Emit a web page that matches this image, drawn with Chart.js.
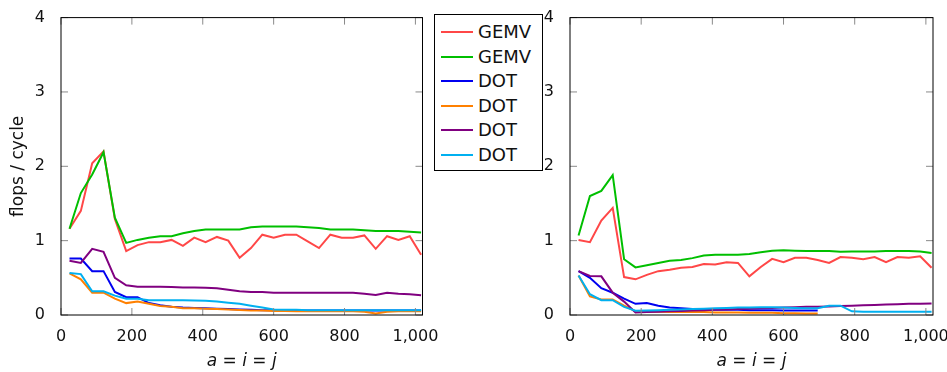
<!DOCTYPE html>
<html>
<head>
<meta charset="utf-8">
<script src="https://cdn.jsdelivr.net/npm/chart.js@4.4.1/dist/chart.umd.min.js"></script>
<style>
html, body { margin: 0; padding: 0; background: #fff; width: 947px; height: 372px; overflow: hidden; }
.plot { position: absolute; top: 0; height: 372px; }
#left { left: 0; width: 445px; }
#right { left: 509px; width: 450px; }
#legend { position: absolute; left: 434px; top: 14px; width: 109px; height: 157px; box-sizing: border-box;
  border: 1px solid #000; background: #fff; z-index: 5; font-family: 'DejaVu Sans'; font-size: 18px; color: #111; }
#legend .row { position: absolute; left: 0; height: 24px; line-height: 24px; white-space: nowrap; }
#legend .swatch { position: absolute; left: 6px; top: 11px; width: 32px; height: 2px; }
#legend .name { position: absolute; left: 43px; top: 0; }
</style>
</head>
<body>
<div class="plot" id="left"><canvas id="chartLeft"></canvas></div>
<div class="plot" id="right"><canvas id="chartRight"></canvas></div>
<div id="legend"></div>
<script>
// problem size a = i = j
const sizes = [24, 56, 88, 120, 152, 184, 216, 248, 280, 312, 344, 376, 408, 440, 472, 504,
               536, 568, 600, 632, 664, 696, 728, 760, 792, 824, 856, 888, 920, 952, 984, 1016];
const xTicks = [0, 200, 400, 600, 800, 1000];
const yTicks = [0, 1, 2, 3, 4];

const seriesNames = ['GEMV', 'GEMV', 'DOT', 'DOT', 'DOT', 'DOT'];
const seriesColors = ['#ff4747', '#00bf00', '#0000f0', '#ff8000', '#800080', '#00b0f0'];

// left panel
const gemvRedL = [1.16, 1.40, 2.04, 2.20, 1.29, 0.86, 0.94, 0.98, 0.98, 1.01, 0.93, 1.04, 0.98, 1.05, 1.00, 0.77,
                  0.90, 1.08, 1.04, 1.08, 1.08, 0.99, 0.90, 1.08, 1.04, 1.04, 1.07, 0.89, 1.06, 1.01, 1.06, 0.81];
const gemvGreenL = [1.16, 1.64, 1.89, 2.19, 1.31, 0.97, 1.01, 1.04, 1.06, 1.06, 1.10, 1.13, 1.15, 1.15, 1.15, 1.15,
                    1.18, 1.19, 1.19, 1.19, 1.19, 1.18, 1.17, 1.15, 1.15, 1.15, 1.14, 1.13, 1.13, 1.13, 1.12, 1.11];
const dotBlueL = [0.76, 0.76, 0.59, 0.59, 0.31, 0.24, 0.24, 0.16, 0.13, 0.11, 0.10, 0.095, 0.09, 0.085, 0.08, 0.075,
                  0.07, 0.065, 0.065, 0.06, 0.06, 0.06, 0.06, 0.06, 0.06, 0.06, 0.06, 0.06, 0.06, 0.06, 0.06, 0.06];
const dotOrangeL = [0.56, 0.48, 0.30, 0.30, 0.22, 0.16, 0.18, 0.15, 0.12, 0.11, 0.09, 0.09, 0.085, 0.08, 0.075, 0.067,
                    0.06, 0.06, 0.055, 0.055, 0.05, 0.05, 0.05, 0.05, 0.05, 0.05, 0.045, 0.02, 0.045, 0.05, 0.05, 0.05];
const dotPurpleL = [0.73, 0.70, 0.89, 0.85, 0.50, 0.40, 0.38, 0.38, 0.38, 0.375, 0.37, 0.37, 0.365, 0.36, 0.34, 0.32,
                    0.31, 0.31, 0.30, 0.30, 0.30, 0.30, 0.30, 0.30, 0.30, 0.30, 0.285, 0.27, 0.30, 0.285, 0.28, 0.267];
const dotCyanL = [0.565, 0.55, 0.32, 0.32, 0.26, 0.22, 0.22, 0.20, 0.20, 0.20, 0.20, 0.195, 0.19, 0.18, 0.165, 0.15,
                  0.125, 0.10, 0.075, 0.07, 0.07, 0.065, 0.065, 0.065, 0.065, 0.065, 0.065, 0.065, 0.065, 0.065, 0.065, 0.065];

// right panel (blue and orange stop at 696)
const gemvRedR = [1.01, 0.98, 1.27, 1.44, 0.51, 0.48, 0.54, 0.59, 0.61, 0.635, 0.645, 0.685, 0.68, 0.71, 0.70, 0.52,
                  0.645, 0.755, 0.71, 0.77, 0.77, 0.74, 0.70, 0.78, 0.77, 0.75, 0.78, 0.71, 0.78, 0.77, 0.79, 0.635];
const gemvGreenR = [1.07, 1.60, 1.67, 1.88, 0.75, 0.64, 0.67, 0.70, 0.73, 0.74, 0.765, 0.80, 0.81, 0.81, 0.81, 0.82,
                    0.845, 0.865, 0.87, 0.865, 0.86, 0.86, 0.86, 0.85, 0.855, 0.855, 0.855, 0.86, 0.86, 0.86, 0.855, 0.835];
const dotBlueR = [0.59, 0.50, 0.36, 0.30, 0.22, 0.15, 0.16, 0.125, 0.10, 0.09, 0.08, 0.075, 0.07, 0.07, 0.07, 0.065,
                  0.065, 0.065, 0.06, 0.06, 0.06, 0.06];
const dotOrangeR = [0.53, 0.25, 0.21, 0.21, 0.125, 0.05, 0.045, 0.045, 0.04, 0.04, 0.04, 0.04, 0.035, 0.035, 0.035, 0.03,
                    0.03, 0.03, 0.025, 0.025, 0.02, 0.02];
const dotPurpleR = [0.59, 0.525, 0.52, 0.30, 0.18, 0.035, 0.04, 0.045, 0.05, 0.055, 0.06, 0.065, 0.07, 0.075, 0.08, 0.085,
                    0.09, 0.095, 0.10, 0.105, 0.11, 0.11, 0.115, 0.12, 0.125, 0.13, 0.135, 0.14, 0.145, 0.15, 0.152, 0.155];
const dotCyanR = [0.53, 0.28, 0.20, 0.20, 0.11, 0.057, 0.06, 0.065, 0.07, 0.075, 0.08, 0.085, 0.09, 0.095, 0.10, 0.10,
                  0.105, 0.105, 0.10, 0.095, 0.09, 0.09, 0.125, 0.125, 0.05, 0.045, 0.045, 0.045, 0.045, 0.045, 0.045, 0.045];

const FONT = 'DejaVu Sans';
const TEXT = '#111';

// frame with small inward ticks, like pgfplots
const framePlugin = {
  id: 'frame',
  afterDatasetsDraw(chart) {
    const { ctx, chartArea: a, scales: { x, y } } = chart;
    const len = 7;
    ctx.save();
    ctx.strokeStyle = '#8a8a8a';
    ctx.lineWidth = 1;
    ctx.beginPath();
    x.ticks.forEach(t => {
      const px = x.getPixelForValue(t.value);
      ctx.moveTo(px, a.bottom); ctx.lineTo(px, a.bottom - len);
      ctx.moveTo(px, a.top); ctx.lineTo(px, a.top + len);
    });
    y.ticks.forEach(t => {
      const py = y.getPixelForValue(t.value);
      ctx.moveTo(a.left, py); ctx.lineTo(a.left + len, py);
      ctx.moveTo(a.right, py); ctx.lineTo(a.right - len, py);
    });
    ctx.stroke();
    ctx.strokeStyle = '#000';
    ctx.strokeRect(a.left, a.top, a.right - a.left, a.bottom - a.top);
    ctx.restore();
  }
};

function makeDatasets(list) {
  return list.map((vals, i) => ({
    label: seriesNames[i],
    data: vals.map((v, k) => ({ x: sizes[k], y: v })),
    borderColor: seriesColors[i],
    backgroundColor: seriesColors[i],
    borderWidth: 2,
    pointRadius: 0,
    tension: 0,
    fill: false,
    order: list.length - i
  }));
}

function makeChart(id, list, padRight, showYTitle) {
  const ctx = document.getElementById(id).getContext('2d');
  return new Chart(ctx, {
    type: 'line',
    data: { datasets: makeDatasets(list) },
    plugins: [framePlugin],
    options: {
      responsive: true,
      maintainAspectRatio: false,
      animation: false,
      devicePixelRatio: 1,
      layout: { padding: { left: 0, top: 15, right: padRight, bottom: 0 } },
      plugins: { legend: { display: false }, tooltip: { enabled: false } },
      scales: {
        x: {
          type: 'linear',
          min: 0,
          max: 1020,
          grid: { display: false },
          border: { display: false },
          afterBuildTicks: s => { s.ticks = xTicks.map(v => ({ value: v })); },
          afterFit: s => { s.height = 57; },
          ticks: {
            padding: 4,
            maxRotation: 0,
            color: TEXT,
            font: { family: FONT, size: 16 },
            callback: v => v.toLocaleString('en-US')
          },
          title: {
            display: true,
            text: 'a = i = j',
            color: TEXT,
            font: { family: FONT, size: 17, style: 'italic' },
            padding: { top: 0, bottom: 0 }
          }
        },
        y: {
          min: 0,
          max: 4,
          grid: { display: false },
          border: { display: false },
          afterBuildTicks: s => { s.ticks = yTicks.map(v => ({ value: v })); },
          afterFit: s => { s.width = 61; },
          ticks: { padding: 8, color: TEXT, font: { family: FONT, size: 16 } },
          title: {
            display: showYTitle,
            text: 'flops / cycle',
            color: TEXT,
            font: { family: FONT, size: 17 },
            padding: { top: 8, bottom: 0 }
          }
        }
      }
    }
  });
}

makeChart('chartLeft', [gemvRedL, gemvGreenL, dotBlueL, dotOrangeL, dotPurpleL, dotCyanL], 22.5, true);
makeChart('chartRight', [gemvRedR, gemvGreenR, dotBlueR, dotOrangeR, dotPurpleR, dotCyanR], 26, false);

// legend box
const legend = document.getElementById('legend');
seriesNames.forEach((name, i) => {
  const row = document.createElement('div');
  row.className = 'row';
  row.style.top = (5 + i * 24.6) + 'px';
  row.innerHTML = '<span class="swatch" style="background:' + seriesColors[i] + '"></span>' +
                  '<span class="name">' + name + '</span>';
  legend.appendChild(row);
});
</script>
</body>
</html>
